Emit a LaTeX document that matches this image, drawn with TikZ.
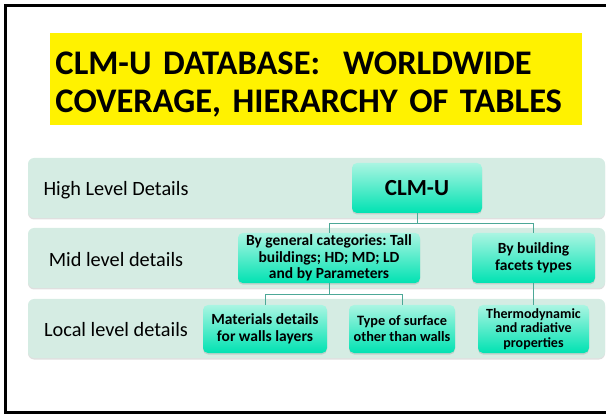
\documentclass[tikz,border=0pt]{standalone}
\usepackage{fontspec}
\setmainfont{Carlito}
\usepackage{xcolor}
\usepackage{tikz}
\usetikzlibrary{shadows}

\definecolor{bandgreen}{RGB}{213,236,227}
\definecolor{boxtop}{RGB}{170,245,226}
\definecolor{boxbottom}{RGB}{0,226,178}
\definecolor{linkteal}{RGB}{76,168,151}

\frenchspacing
\newcommand\titlefont{\bfseries\fontsize{34.5}{38}\selectfont\spaceskip=0.18em\relax}

\begin{document}
\begin{tikzpicture}[x=1pt, y=-1pt,
    band/.style={fill=bandgreen, rounded corners=6pt,
      drop shadow={shadow xshift=0pt, shadow yshift=-1.5pt, opacity=0.25}},
    level label/.style={font=\fontsize{20.3}{24}\selectfont, anchor=base, inner sep=0pt},
    box/.style={rounded corners=5pt, top color=boxtop, bottom color=boxbottom,
      minimum height=50pt, align=center, inner sep=2pt,
      font=\bfseries\fontsize{15.5}{16.5}\selectfont,
      drop shadow={shadow xshift=0pt, shadow yshift=-1.5pt, opacity=0.25}},
    local/.style={box, minimum height=48pt},
    link/.style={draw=linkteal, line width=1pt}
    ]
    \useasboundingbox (0,0) rectangle (606,417);
    \draw[line width=3pt] (606,5.5) -- (5.5,5.5) -- (5.5,412.5) -- (606,412.5);

    \node[fill=yellow, minimum width=531pt, minimum height=92pt, text width=520pt,
      text height=33pt, align=left, inner xsep=6pt, font=\titlefont]
      (title) at (315.5,79) {CLM-U DATABASE:\ \ WORLDWIDE\\COVERAGE, HIERARCHY OF TABLES};

    \path[band] (28,158) rectangle (605,218);
    \path[band] (28,228) rectangle (605,288);
    \path[band] (28,299) rectangle (605,358);

    \node[level label] (highlbl) at (116,196) {High Level Details};
    \node[level label] (midlbl) at (116,266) {Mid level details};
    \node[level label] (locallbl) at (116,336) {Local level details};

    \node[box, minimum width=130pt, font=\bfseries\fontsize{23}{28}\selectfont] (clmu) at (417,188) {CLM-U};
    \node[box, minimum width=182pt] (midcat) at (329,258) {By general categories: Tall\\buildings; HD; MD; LD\\and by Parameters};
    \node[box, minimum width=123pt] (midfacet) at (533.5,258) {By building\\facets types};
    \node[local, minimum width=124pt] (locmat) at (265,329) {Materials details\\for walls layers};
    \node[local, minimum width=106pt, font=\bfseries\fontsize{14.3}{16}\selectfont] (locsurf) at (402,329) {Type of surface\\other than walls};
    \node[local, minimum width=111pt, font=\bfseries\fontsize{14}{14.5}\selectfont] (locthermo) at (533.5,329) {Thermodynamic\\and radiative\\properties};

    \draw[link] (clmu.south) -- ++(0,10) -| (midcat.north);
    \draw[link] (clmu.south) -- ++(0,10) -| (midfacet.north);
    \draw[link] (midcat.south) -- ++(0,11) -| (locmat.north);
    \draw[link] (midcat.south) -- ++(0,11) -| (locsurf.north);
    \draw[link] (midfacet.south) -- (locthermo.north);
\end{tikzpicture}
\end{document}
